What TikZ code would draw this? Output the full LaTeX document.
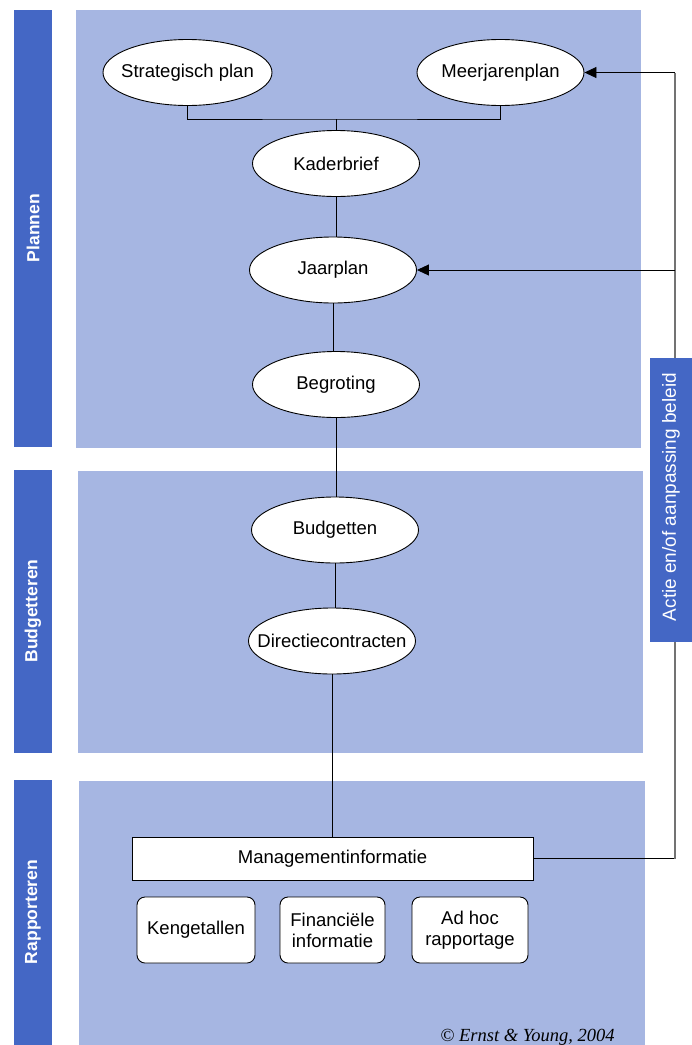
\documentclass[tikz,border=0pt]{standalone}
\usepackage{fontspec}
\setmainfont{Liberation Sans}
\newfontfamily\timesfont{Liberation Serif}
\usetikzlibrary{shapes.geometric,arrows.meta}
\definecolor{darkband}{HTML}{4467C5}
\definecolor{lightpanel}{HTML}{A6B6E2}
\newcommand{\zw}[1]{\makebox[0pt]{#1}}
\begin{document}
\begin{tikzpicture}[x=1pt,y=-1pt,
  txt/.style={font=\fontsize{18.5}{21}\selectfont},
  oval/.style={ellipse, draw=black, line width=0.9pt, fill=white, minimum width=167pt, minimum height=66pt, inner sep=0pt, txt},
  rbox/.style={draw=black, rounded corners=8pt, fill=white, line width=0.9pt, align=center, txt, inner sep=0pt, minimum height=66pt},
  band/.style={fill=darkband},
  panel/.style={fill=lightpanel},
  bandlabel/.style={rotate=90, text=white, font=\bfseries\fontsize{17.5}{20}\selectfont},
  link/.style={draw=black, line width=0.9pt},
  fb/.style={draw=black!55, line width=1.1pt},
  arr/.style={draw=black, line width=0.9pt, -{Triangle[length=12pt,width=11pt]}}
]
\useasboundingbox (0,0) rectangle (692,1045);
\fill[white] (0,0) rectangle (692,1045);

% bands and panels
\fill[band] (14,10) rectangle (52,447);
\fill[band] (14,470) rectangle (52,753);
\fill[band] (14,780) rectangle (52,1045);
\fill[panel] (76,10) rectangle (641,448);
\fill[panel] (78,471) rectangle (643,753);
\fill[panel] (79,781) rectangle (645,1045);

\node[bandlabel] (lplan) at (33,228) {Plannen};
\node[bandlabel] (lbudg) at (33,611) {Budgetteren};
\node[bandlabel] (lrapp) at (33,912) {Rapporteren};

% ovals
\node[oval, minimum width=169pt] (strat) at (187.5,72.5) {\zw{Strategisch plan}};
\node[oval] (meer) at (500.5,72.5) {\zw{Meerjarenplan}};
\node[oval] (kader) at (336,163.5) {\zw{Kaderbrief}};
\node[oval] (jaar) at (333,270) {\zw{Jaarplan}};
\node[oval] (begr) at (336,384.5) {\zw{Begroting}};
\node[oval] (budg) at (335,530) {\zw{Budgetten}};
\node[oval] (dir) at (332,641) {\zw{Directiecontracten}};

% management info
\node[draw=black, fill=white, line width=0.9pt, minimum width=401pt, minimum height=43pt, inner sep=0pt, txt] (mi) at (332.5,858.5) {Managementinformatie};
\node[rbox, minimum width=118pt] (keng) at (196,930) {Kengetallen};
\node[rbox, minimum width=105pt] (fin) at (332.5,930) {Financiële\\informatie};
\node[rbox, minimum width=116pt] (adhoc) at (470,930) {Ad hoc\\rapportage};

% connectors
\coordinate (junc) at (336,119);
\draw[link] (strat.south) |- (junc) -| (meer.south);
\draw[link] (junc) -- (kader.north);
\draw[link] (kader.south) -- (kader.south |- jaar.north);
\draw[link] (jaar.south) -- (jaar.south |- begr.north);
\draw[link] (begr.south) -- (begr.south |- budg.north);
\draw[link] (budg.south) -- (budg.south |- dir.north);
\draw[link] (dir.south) -- (dir.south |- mi.north);

% feedback loop
\coordinate (fbB) at (675,858.5);
\coordinate (fbT) at (675,72.5);
\coordinate (fbJ) at (675,270);
\draw[link] (mi.east) -- (fbB);
\draw[fb] (fbB) -- (fbT);
\draw[arr] (fbT) -- (meer.east);
\draw[arr] (fbJ) -- (jaar.east);

\fill[band] (650,358) rectangle (692,642);
\node[rotate=90, text=white, font=\fontsize{19}{22}\selectfont] (actie) at (671,497) {Actie en/of aanpassing beleid};

\node[anchor=base, font=\timesfont\itshape\fontsize{18.5}{21}\selectfont] (copy) at (527.5,1041) {© Ernst \& Young, 2004};
\end{tikzpicture}
\end{document}
